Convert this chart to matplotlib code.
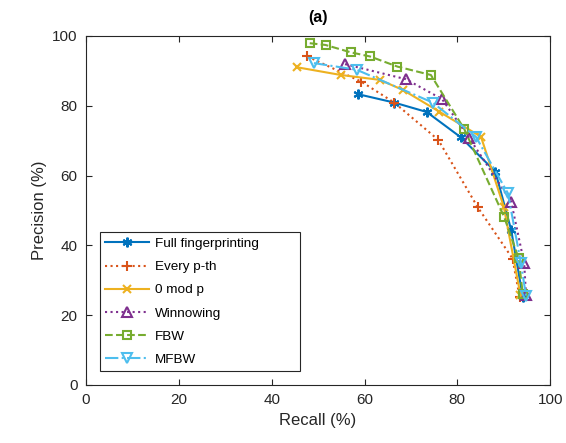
import matplotlib
matplotlib.use("Agg")
import matplotlib.pyplot as plt
from matplotlib.patches import Rectangle

plt.rcParams["font.family"] = ["Liberation Sans", "DejaVu Sans"]

# recall / precision pairs
full_recall = [58.6, 66.4, 73.4, 80.8, 88.2, 91.6, 94.1]
full_prec = [83.3, 80.9, 78.2, 70.9, 61.1, 44.4, 25.3]

every_recall = [47.7, 59.3, 66.4, 75.9, 84.4, 91.9, 93.4]
every_prec = [94.1, 86.9, 80.9, 70.2, 50.9, 36.2, 25.3]

mod_recall = [45.5, 54.9, 63.3, 68.3, 76.1, 85.1, 90.0, 93.6]
mod_prec = [91.0, 88.8, 87.4, 84.5, 78.3, 71.1, 51.1, 25.8]

winn_recall = [55.8, 68.9, 76.7, 82.6, 91.6, 94.4, 94.8]
winn_prec = [91.9, 87.6, 81.9, 70.7, 52.5, 34.9, 25.8]

fbw_recall = [48.2, 51.6, 57.0, 61.2, 67.1, 74.3, 81.5, 90.1, 93.2, 94.1]
fbw_prec = [97.9, 97.4, 95.3, 94.1, 91.2, 88.8, 73.3, 48.1, 36.3, 26.1]

mfbw_recall = [49.1, 58.3, 74.7, 84.0, 90.9, 93.7, 94.8]
mfbw_prec = [92.2, 90.3, 80.9, 71.1, 54.9, 34.9, 25.5]

series = [
    ("Full fingerprinting", full_recall, full_prec, "#0072BD", "-", (6, 2, 0), 7),
    ("Every p-th", every_recall, every_prec, "#D95319", ":", "+", 7.5),
    ("0 mod p", mod_recall, mod_prec, "#EDB120", "-", "x", 6),
    ("Winnowing", winn_recall, winn_prec, "#7E2F8E", ":", "^", 7),
    ("FBW", fbw_recall, fbw_prec, "#77AC30", "--", "s", 6),
    ("MFBW", mfbw_recall, mfbw_prec, "#4DBEEE", "-.", "v", 7),
]

fig = plt.figure(figsize=(5.66, 4.43), dpi=100)
ax = fig.add_axes([0.152, 0.131, 0.820, 0.788])

for name, rx, py, color, ls, marker, ms in series:
    ax.plot(rx, py, color=color, linestyle=ls, linewidth=1.5, marker=marker,
            markersize=ms, markerfacecolor="none", markeredgewidth=1.5, label=name)

ax.set_xlim(0, 100)
ax.set_ylim(0, 100)
ax.set_xticks([0, 20, 40, 60, 80, 100])
ax.set_yticks([0, 20, 40, 60, 80, 100])
ax.tick_params(direction="in", top=True, right=True, labelsize=11, length=4,
               color="#262626", labelcolor="#262626", pad=6)
for sp in ax.spines.values():
    sp.set_color("#262626")
    sp.set_linewidth(0.8)

ax.set_xlabel("Recall (%)", fontsize=12, color="#262626")
ax.set_ylabel("Precision (%)", fontsize=12, color="#262626")
ax.set_title("(a)", fontsize=11.5, fontweight="bold", pad=10)

leg = ax.legend(loc="lower left", fontsize=9.7, fancybox=False, framealpha=1,
                edgecolor="#262626", handlelength=3.3, handletextpad=0.4,
                borderaxespad=1.0, labelspacing=0.8)

# MATLAB-style legend box: wider on the right than matplotlib's frame
fig.canvas.draw()
bb = leg.get_window_extent().transformed(ax.transAxes.inverted())
leg.get_frame().set_visible(False)
box = Rectangle((bb.x0, bb.y0), 0.46 - bb.x0, bb.height, transform=ax.transAxes,
                facecolor="white", edgecolor="#262626", linewidth=0.8, zorder=4.9)
ax.add_patch(box)

fig.savefig("out.png", dpi=100)
